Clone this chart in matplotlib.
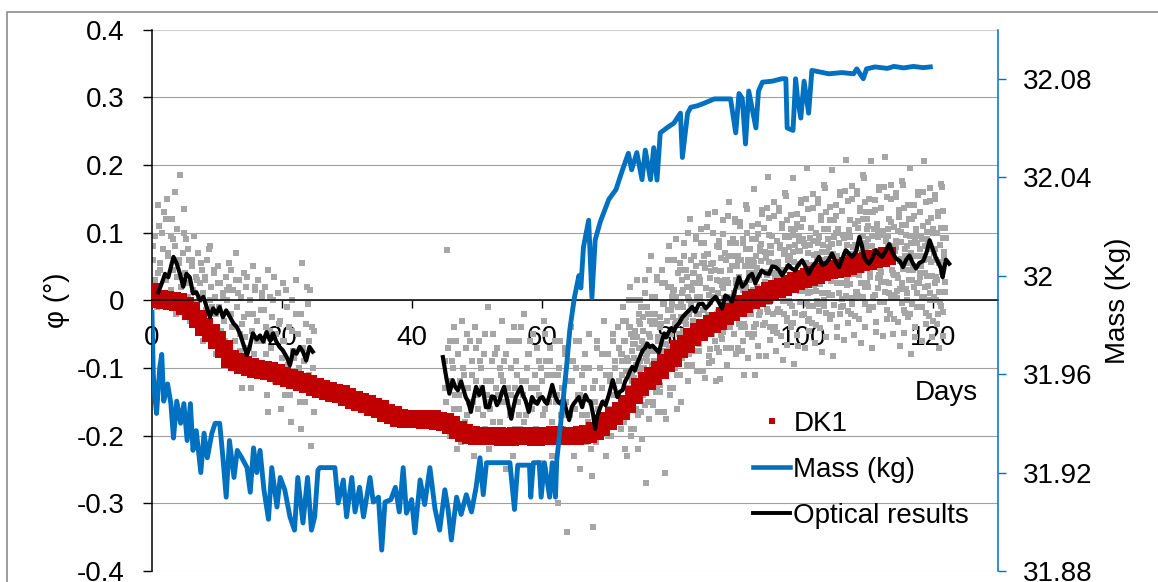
import matplotlib
matplotlib.use("Agg")
import matplotlib.pyplot as plt
import numpy as np
from matplotlib.lines import Line2D
from matplotlib.patches import Rectangle

plt.rcParams['font.family'] = ['Liberation Sans', 'DejaVu Sans']

# ---------------- data ----------------
x_ticks = [0, 20, 40, 60, 80, 100, 120]
x_tick_labels = ['0', '20', '40', '60', '80', '100', '120']
phi_ticks = [-0.4, -0.3, -0.2, -0.1, 0, 0.1, 0.2, 0.3, 0.4]
phi_tick_labels = ['-0.4', '-0.3', '-0.2', '-0.1', '0', '0.1', '0.2', '0.3', '0.4']
mass_ticks = [31.88, 31.92, 31.96, 32.00, 32.04, 32.08]
mass_tick_labels = ['31.88', '31.92', '31.96', '32', '32.04', '32.08']

# DK1 (one value per day, day 0..113)
dk1_days = list(range(0, 114))
dk1_phi = [0.012, 0.002, 0.000, -0.001, -0.002, -0.008, -0.016, -0.027, -0.040, -0.048,
           -0.058, -0.072, -0.087, -0.091, -0.095, -0.099, -0.101, -0.103, -0.105, -0.108,
           -0.112, -0.115, -0.118, -0.121, -0.124, -0.128, -0.131, -0.134, -0.137, -0.139,
           -0.143, -0.147, -0.150, -0.154, -0.157, -0.161, -0.166, -0.170, -0.174, -0.176,
           -0.175, -0.176, -0.177, -0.176, -0.178, -0.180, -0.185, -0.191, -0.196, -0.199,
           -0.200, -0.201, -0.200, -0.201, -0.202, -0.202, -0.201, -0.200, -0.201, -0.202,
           -0.201, -0.200, -0.199, -0.200, -0.201, -0.200, -0.199, -0.197, -0.193, -0.187,
           -0.179, -0.171, -0.164, -0.153, -0.140, -0.128, -0.120, -0.112, -0.103, -0.092,
           -0.085, -0.072, -0.064, -0.055, -0.047, -0.041, -0.035, -0.030, -0.024, -0.018,
           -0.011, -0.006, 0.000, 0.004, 0.008, 0.013, 0.016, 0.020, 0.024, 0.028,
           0.031, 0.034, 0.038, 0.041, 0.044, 0.046, 0.048, 0.050, 0.053, 0.056,
           0.058, 0.061, 0.063, 0.065]

# raw gray samples (phi in 1/1000 degree), regularly sampled: (start day, step, values)
raw_a_start, raw_a_step = 0.1, 0.2
raw_a = [60, 20, 95, -10, 40, 110, 55, 0, 75, 130, 30, 150, 65, 10, 95, 120, 45, 80, -20, 105,
         60, 185, 20, 70, 135, 40, 90, 5, 60, -30, 50, 15, 95, 35, -5, 70, 25, -40, 45, 10,
         30, -15, 60, 75, 0, 20, -50, 40, 5, -20, 50, -10, 25, -70, 10, -30, 35, 0, -90, 20,
         45, -40, 15, -60, 70, -10, 30, -75, 5, -35, 40, -55, 20, -20, -100, 0, -45, 50, -80, 15,
         -30, 30, -110, -15, 10, -60, 20, -40, -140, 45, 5, -70, -25, 35, -95, -50, 10, -120, -30, -85,
         25, -60, -140, -10, -95, -40, -180, 0, -75, -125, 30, -110, -50, -150, -20, 55, -90, -130, -35, -5,
         -60, 15, -215, -100, -45]
raw_a2_start, raw_a2_step = 0.2, 1 / 3
raw_a2 = [80, 30, 140, 45, 100, -5, 120, 70, 15, 90, 160, 35, 55, 5, 100, 25, 75, -15,
          60, -25, 30, 0, 55, -60, 35, -35, 80, -10, 45, -80, 25, -45, 5, -60, 15, 55,
          -20, -95, 30, 10, -50, -130, -25, 35, -70, -130, -20, 20, -60, -95, 5, -15, -80, -165,
          -45, 0, -120, -100, -35, -160, -60, 15, -105, -140, -45, -85, -20, -100, -190,
          -70, -150, 20, -110, -40, -165]
raw_b_start, raw_b_step = 45.0, 0.2
raw_b = [-90, -150, 74, -120, -60, -180, -100, -40, -140, -220, -80, -160, -120, -30, -190,
         -110, -70, -170, -130, -60, -200, -90, -150, -40, -120, -140, -60, -265, -100, -170,
         -80, -190, -120, -10, -150, -160, -90, -50, -210, -130, -70, -140, -180, -110, -30,
         -120, -200, -80, -150, -60, -170, -100, -230, -40, -130, -90, -150, -60, -190, -120,
         -140, -20, -170, -100, -210, -80, -130, -160, -50, -110, -190, -70, -140, -240, -100,
         -120, -30, -160, -90, -200, -150, -70, -180, -110, -200, -60, -140, -300, -100, -170,
         -130, -210, -80, -150, -343, -90, -170, -40, -120, -230, -160, -100, -190, -60, -140,
         -110, -200, -130, -80, -170, -180, -50, -150, -260, -335, -120, -210, -70, -160, -100,
         -190, -130, -30, -150, -230, -80, -160, -110, -200, -60, -140, -90, -170, -40, -120]
raw_b2_start, raw_b2_step = 45.1, 1 / 3
raw_b2 = [-130, -70, -200, -90, -160, -60, -140, -210, -100, -180, -50, -150, -110, -230, -70,
          -160, -90, -130, -50, -140, -220, -120, -180, -80, -200, -100, -150, -90, -250, -130,
          -140, -60, -190, -110, -170, -40, -180, -120, -80, -60, -200, -150, -130, -90, -210,
          -170, -50, -110, -90, -230, -140, -150, -110, -60, -190, -70, -170, -120, -200, -90,
          -60, -140, -250, -170, -100, -210, -100, -220, -130, -150, -60, -190, -80, -170, -110,
          -200, -120, -50, -100, -160, -70]
raw_c_start, raw_c_step = 72.0, 0.125
raw_c = [-80, -180, -110, -30, -150, -220, -60, -130,
         -160, -90, 0, -130, -40, -190, -110, -65,
         -85, -190, -45, -135, 30, -95, -170, -70,
         -105, -10, -205, -45, -140, -65, 10, -270,
         -10, -90, -150, -50, -75, 65, -120, 5,
         -155, -35, -20, -75, -135, 30, -60, -100,
         -25, -125, -55, 25, -95, -165, -5, -255,
         -100, -30, 60, -70, 20, -130, -50, -5,
         -25, -130, 15, -75, 90, -35, -110, -10,
         -50, 45, -150, 10, -85, -10, 65, -70,
         45, -35, -95, 5, -20, 120, -65, 60,
         -95, 25, 40, -15, -75, 90, 0, -40,
         35, -65, 5, 85, -35, -105, 55, -15,
         -52, 18, 108, -22, 68, -82, -2, 43,
         15, -90, 55, -35, 130, 5, -70, 30,
         -17, 78, -117, 43, -52, 23, 98, -37,
         70, -10, -70, 30, 5, 145, -40, 85,
         -70, 50, 65, 10, -50, 115, 25, -15,
         65, -35, 35, 115, -5, -75, 85, 15,
         -20, 50, 140, 10, 100, -50, 30, 75,
         50, -55, 90, 0, 165, 40, -35, 65,
         18, 113, -82, 78, -17, 58, 133, -2,
         107, 27, -33, 67, 42, 182, -3, 122,
         -40, 80, 95, 40, -20, 145, 55, 15,
         87, -13, 57, 137, 17, -53, 107, 37,
         -1, 69, 159, 29, 119, -31, 49, 94,
         66, -39, 106, 16, 181, 56, -19, 81,
         33, 128, -67, 93, -2, 73, 148, 13,
         120, 40, -20, 80, 55, 195, 10, 135,
         -28, 92, 107, 52, -8, 157, 67, 27,
         99, -1, 69, 149, 29, -41, 119, 49,
         11, 81, 171, 41, 131, -19, 61, 106,
         78, -27, 118, 28, 193, 68, -7, 93,
         45, 140, -55, 105, 10, 85, 160, 25,
         132, 52, -8, 92, 67, 207, 22, 147,
         -16, 104, 119, 64, 4, 169, 79, 39,
         112, 12, 82, 162, 42, -28, 132, 62,
         25, 95, 185, 55, 145, -5, 75, 120,
         90, -15, 130, 40, 205, 80, 5, 105,
         53, 148, -47, 113, 18, 93, 168, 33,
         137, 57, -3, 97, 72, 212, 27, 152,
         -15, 105, 120, 65, 5, 170, 80, 40,
         108, 8, 78, 158, 38, -32, 128, 58,
         16, 86, 176, 46, 136, -14, 66, 111,
         80, -25, 120, 30, 195, 70, -5, 95,
         45, 140, -55, 105, 10, 85, 160, 25,
         130, 50, -10, 90, 65, 205, 20, 145,
         -19, 101, 116, 61, 1, 166, 76, 36,
         105, 5, 75, 155, 35, -35, 125, 55,
         12, 82, 172, 42, 132, -18, 62, 107]
raw_c2_start, raw_c2_step = 72.0625, 0.125
raw_c2 = [-190, -90, -10, -160, -60, -130, -30, -230,
          -90, -155, -40, 20, -200, -75, -135, -55,
          -130, 0, -95, -160, -55, -220, -20, -90,
          0, -165, -60, -25, -100, 30, -135, -85,
          -80, -20, -175, 45, -55, -110, -35, -150,
          -20, -90, 5, -135, 35, -55, -165, -35,
          -135, -35, 45, -105, -5, -75, 25, -175,
          -30, -95, 20, 80, -140, -15, -75, 5,
          -70, 60, -35, -100, 5, -160, 40, -30,
          55, -110, -5, 30, -45, 85, -80, -30,
          -25, 35, -120, 100, 0, -55, 20, -95,
          40, -30, 65, -75, 95, 5, -105, 25,
          -75, 25, 105, -45, 55, -15, 85, -115,
          18, -47, 68, 128, -92, 33, -27, 53,
          -30, 100, 5, -60, 45, -120, 80, 10,
          88, -77, 28, 63, -12, 118, -47, 3,
          0, 60, -95, 125, 25, -30, 45, -70,
          65, -5, 90, -50, 120, 30, -80, 50,
          -70, 30, 110, -40, 60, -10, 90, -110,
          25, -40, 75, 135, -85, 40, -20, 60,
          -20, 110, 15, -50, 55, -110, 90, 20,
          98, -67, 38, 73, -2, 128, -37, 13,
          12, 72, -83, 137, 37, -18, 57, -58,
          70, 0, 95, -45, 125, 35, -75, 55,
          -48, 52, 132, -18, 82, 12, 112, -88,
          44, -21, 94, 154, -66, 59, -1, 79,
          -4, 126, 31, -34, 71, -94, 106, 36,
          113, -52, 53, 88, 13, 143, -22, 28,
          25, 85, -70, 150, 50, -5, 70, -45,
          82, 12, 107, -33, 137, 47, -63, 67,
          -36, 64, 144, -6, 94, 24, 124, -76,
          56, -9, 106, 166, -54, 71, 11, 91,
          8, 138, 43, -22, 83, -82, 118, 48,
          125, -40, 65, 100, 25, 155, -10, 40,
          37, 97, -58, 162, 62, 7, 82, -33,
          94, 24, 119, -21, 149, 59, -51, 79,
          -23, 77, 157, 7, 107, 37, 137, -63,
          70, 5, 120, 180, -40, 85, 25, 105,
          20, 150, 55, -10, 95, -70, 130, 60,
          133, -32, 73, 108, 33, 163, -2, 48,
          42, 102, -53, 167, 67, 12, 87, -28,
          95, 25, 120, -20, 150, 60, -50, 80,
          -27, 73, 153, 3, 103, 33, 133, -67,
          61, -4, 111, 171, -49, 76, 16, 96,
          10, 140, 45, -20, 85, -80, 120, 50,
          125, -40, 65, 100, 25, 155, -10, 40,
          35, 95, -60, 160, 60, 5, 80, -35,
          91, 21, 116, -24, 146, 56, -54, 76,
          -30, 70, 150, 0, 100, 30, 130, -70,
          57, -8, 107, 167, -53, 72, 12, 92]
raw_c3_start, raw_c3_step = 72.03, 0.25
raw_c3 = [-150, -80, -180, -105, -85, -155, -50, -120, -115, -65, -140, -30,
          -35, -110, -75, -155, -125, -70, -30, -95, -100, -30, -130, -55,
          -40, -110, -5, -75, -65, -15, -90, 20, 10, -65, -30, -110,
          -80, -25, 15, -50, -50, 20, -80, -5, 15, -55, 50, -20,
          -20, 30, -45, 65, 48, -27, 8, -72, -50, 5, 45, -20,
          -27, 43, -57, 18, 30, -40, 65, -5, 0, 50, -25, 85,
          60, -15, 20, -60, -35, 20, 60, -5, -10, 60, -40, 35,
          48, -22, 83, 13, 12, 62, -13, 97, 80, 5, 40, -40,
          -18, 37, 77, 12, 4, 74, -26, 49, 61, -9, 96, 26,
          23, 73, -2, 108, 90, 15, 50, -30, -8, 47, 87, 22,
          14, 84, -16, 59, 71, 1, 106, 36, 33, 83, 8, 118,
          100, 25, 60, -20, 2, 57, 97, 32, 24, 94, -6, 69,
          82, 12, 117, 47, 45, 95, 20, 130, 110, 35, 70, -10,
          8, 63, 103, 38, 27, 97, -3, 72, 80, 10, 115, 45,
          38, 88, 13, 123, 101, 26, 61, -19, 0, 55, 95, 30,
          20, 90, -10, 65, 75, 5, 110, 40, 36, 86, 11, 121,
          100, 25, 60, -20, -3, 52, 92, 27]

# Optical results (two segments)
opt1_days = [0.97, 1.5, 2.0, 2.5, 3.3, 3.8, 4.3, 4.8, 5.3, 5.8, 6.3, 6.8, 7.4, 7.9, 8.4, 8.9,
             9.4, 9.9, 10.4, 10.9, 11.4, 12.0, 12.5, 13.0, 13.5, 14.0, 14.6, 15.0, 15.5, 16.1,
             16.6, 17.1, 17.6, 18.1, 18.6, 19.1, 19.6, 20.1, 20.7, 21.2, 21.7, 22.2, 22.7, 23.2,
             23.7, 24.2, 24.7]
opt1_phi = [0.012, 0.025, 0.039, 0.034, 0.064, 0.054, 0.039, 0.020, 0.039, 0.034, 0.010, 0.012,
            0.000, 0.005, -0.010, -0.025, -0.012, -0.020, -0.010, -0.025, -0.015, -0.025, -0.034,
            -0.039, -0.049, -0.064, -0.081, -0.069, -0.049, -0.058, -0.052, -0.061, -0.047, -0.059,
            -0.049, -0.061, -0.069, -0.074, -0.084, -0.096, -0.074, -0.079, -0.069, -0.076, -0.089,
            -0.069, -0.076]
opt2_days = [44.7, 45.2, 45.7, 46.2, 46.6, 47.0, 47.5, 48.2, 48.6, 49.0, 49.4, 49.8, 50.3, 50.8,
             51.3, 51.8, 52.2, 52.6, 53.0, 53.4, 53.8, 54.1, 54.6, 55.2, 55.5, 55.9, 56.3, 56.7,
             57.0, 57.4, 57.9, 58.4, 58.8, 59.2, 59.6, 60.0, 60.4, 60.7, 61.1, 61.5, 62.0, 62.4,
             62.8, 63.2, 63.6, 64.1, 64.5, 64.8, 65.2, 65.6, 66.1, 66.6, 67.0, 67.4, 67.8, 68.1,
             68.4, 68.7, 69.2, 69.7, 70.2, 70.8, 71.1, 71.5, 71.9, 72.3, 72.7, 73.1, 73.4, 73.8,
             74.2, 74.6, 75.0, 75.4, 75.8, 76.1, 76.5, 76.9, 77.4, 77.9, 78.3, 78.7, 79.0, 79.4,
             79.8, 80.2, 80.5, 81.0, 81.5, 82.0, 82.5, 83.0, 83.5, 84.0, 84.6, 85.1, 85.6, 86.1,
             86.6, 87.1, 87.6, 88.1, 88.6, 89.1, 89.6, 90.2, 90.7, 91.2, 91.7, 92.2, 92.7, 93.2,
             93.7, 94.2, 94.8, 95.3, 95.8, 96.3, 96.8, 97.3, 97.8, 98.3, 98.8, 99.3, 99.9, 100.4,
             100.9, 101.5, 102.0, 102.5, 103.0, 103.5, 104.0, 104.5, 105.0, 105.6, 106.1, 106.6,
             107.1, 107.6, 108.2, 108.7, 109.1, 109.4, 109.8, 110.2, 110.7, 111.2, 111.7, 112.2,
             112.7, 113.3, 113.8, 114.3, 114.9, 115.4, 115.9, 116.4, 116.9, 117.4, 117.9, 118.5,
             119.0, 119.5, 120.0, 120.4, 120.8, 121.2, 121.5, 121.8, 122.0, 122.5]
opt2_phi = [-0.084, -0.113, -0.138, -0.118, -0.128, -0.133, -0.120, -0.143, -0.150, -0.165, -0.145,
            -0.128, -0.140, -0.128, -0.158, -0.158, -0.142, -0.143, -0.155, -0.148, -0.135, -0.128,
            -0.148, -0.175, -0.160, -0.143, -0.135, -0.128, -0.140, -0.148, -0.165, -0.143, -0.150,
            -0.153, -0.145, -0.143, -0.150, -0.153, -0.140, -0.125, -0.143, -0.150, -0.153, -0.145,
            -0.160, -0.177, -0.158, -0.153, -0.148, -0.143, -0.158, -0.140, -0.148, -0.150, -0.170,
            -0.190, -0.172, -0.163, -0.150, -0.155, -0.140, -0.118, -0.128, -0.143, -0.135, -0.133,
            -0.120, -0.113, -0.106, -0.0985, -0.104, -0.092, -0.083, -0.074, -0.070, -0.064, -0.069,
            -0.067, -0.072, -0.077, -0.062, -0.049, -0.055, -0.047, -0.041, -0.046, -0.039, -0.034,
            -0.025, -0.020, -0.015, -0.010, -0.017, -0.006, -0.005, -0.012, -0.007, 0.000, 0.005,
            -0.003, -0.012, 0.007, 0.004, -0.002, 0.015, 0.034, 0.020, 0.025, 0.035, 0.039, 0.025,
            0.035, 0.044, 0.040, 0.039, 0.050, 0.049, 0.045, 0.037, 0.044, 0.052, 0.047, 0.044,
            0.052, 0.059, 0.050, 0.039, 0.050, 0.056, 0.064, 0.052, 0.054, 0.060, 0.069, 0.058,
            0.049, 0.062, 0.074, 0.069, 0.064, 0.072, 0.0935, 0.080, 0.064, 0.058, 0.054, 0.062,
            0.074, 0.068, 0.064, 0.072, 0.083, 0.070, 0.062, 0.058, 0.049, 0.060, 0.066, 0.055,
            0.047, 0.055, 0.058, 0.070, 0.0886, 0.075, 0.064, 0.056, 0.048, 0.034, 0.050, 0.060,
            0.054]

# Mass (kg), right axis
mass_days = [0.0, 0.2, 0.4, 0.7, 1.2, 1.5, 1.8, 2.4, 2.9, 3.3, 3.8, 4.4, 4.9, 5.4, 5.9, 6.3, 6.8,
             7.5, 8.0, 8.5, 9.2, 9.7, 10.4, 10.9, 11.4, 11.9, 12.6, 13.1, 13.8, 14.6, 15.1, 15.6,
             16.1, 16.6, 17.2, 17.9, 18.4, 19.2, 19.7, 20.4, 21.2, 21.9, 22.4, 23.2, 23.9, 24.5,
             25.0, 25.5, 25.8, 28.1, 28.6, 29.4, 29.9, 30.7, 31.2, 31.9, 32.5, 33.5, 34.0, 34.8,
             35.3, 35.8, 36.7, 37.4, 38.0, 38.6, 39.1, 39.9, 40.4, 41.2, 41.9, 42.7, 43.5, 44.2,
             45.0, 45.5, 46.0, 46.8, 47.5, 48.3, 49.1, 49.8, 50.4, 50.9, 51.4, 53.5, 55.0, 55.7,
             56.2, 58.0, 58.2, 58.6, 59.5, 59.8, 60.3, 61.1, 61.5, 62.0, 62.2, 63.0, 63.7, 64.2,
             64.9, 65.6, 65.9, 66.3, 67.1, 67.6, 68.1, 68.9, 70.2, 71.3, 72.3, 73.2, 73.7, 74.5,
             75.3, 75.8, 76.6, 77.1, 77.6, 78.1, 79.1, 80.2, 81.2, 81.5, 82.3, 82.8, 83.8, 84.8,
             86.4, 88.9, 89.7, 90.2, 90.7, 91.2, 91.7, 92.8, 93.2, 93.8, 95.3, 96.8, 97.4, 97.6,
             98.5, 98.9, 99.2, 99.7, 100.2, 100.9, 101.4, 104.0, 106.0, 107.8, 108.3, 109.3, 109.8,
             111.1, 113.0, 114.0, 115.5, 117.0, 118.5, 119.6]
mass_kg = [31.985, 31.960, 31.952, 31.944, 31.963, 31.968, 31.949, 31.956, 31.948, 31.934, 31.949,
           31.940, 31.948, 31.933, 31.948, 31.929, 31.937, 31.920, 31.936, 31.926, 31.936, 31.940,
           31.940, 31.926, 31.910, 31.933, 31.918, 31.929, 31.926, 31.922, 31.912, 31.930, 31.920,
           31.929, 31.913, 31.901, 31.922, 31.906, 31.918, 31.913, 31.902, 31.8966, 31.918, 31.8995,
           31.918, 31.8966, 31.902, 31.921, 31.922, 31.922, 31.9076, 31.917, 31.902, 31.918, 31.904,
           31.914, 31.902, 31.918, 31.908, 31.910, 31.8885, 31.908, 31.909, 31.914, 31.904, 31.922,
           31.9035, 31.909, 31.8955, 31.917, 31.907, 31.922, 31.905, 31.8966, 31.913, 31.905,
           31.8926, 31.910, 31.903, 31.911, 31.904, 31.914, 31.926, 31.911, 31.924, 31.924, 31.924,
           31.905, 31.923, 31.923, 31.910, 31.924, 31.924, 31.910, 31.924, 31.910, 31.924, 31.910,
           31.925, 31.945, 31.963, 31.978, 31.991, 32.000, 31.995, 32.0116, 32.0225, 31.991,
           32.0145, 32.022, 32.031, 32.035, 32.043, 32.0497, 32.043, 32.050, 32.039, 32.051,
           32.039, 32.052, 32.0388, 32.058, 32.060, 32.062, 32.066, 32.048, 32.066, 32.0684,
           32.069, 32.070, 32.0718, 32.0718, 32.058, 32.074, 32.072, 32.0535, 32.075, 32.060,
           32.075, 32.0786, 32.079, 32.080, 32.080, 32.060, 32.059, 32.080, 32.072, 32.064,
           32.079, 32.066, 32.0834, 32.082, 32.0825, 32.082, 32.084, 32.080, 32.084, 32.0848,
           32.0842, 32.0850, 32.0844, 32.0850, 32.0845, 32.0848]

# ---------------- figure ----------------
W, H = 1158, 582
fig = plt.figure(figsize=(W / 100, H / 100), dpi=100)
fig.patch.set_facecolor('white')

ax = fig.add_axes([152 / W, (H - 571) / H, 846 / W, 541.5 / H])
ax.set_xlim(0, 130)
ax.set_ylim(-0.4, 0.4)

gray = '#A6A6A6'
red = '#C00000'
blue = '#0070C0'

def sampled(start, step, vals):
    days = start + step * np.arange(len(vals))
    return days, np.array(vals) / 1000.0

for st, sp, vv in [(raw_a_start, raw_a_step, raw_a), (raw_a2_start, raw_a2_step, raw_a2),
                   (raw_b_start, raw_b_step, raw_b), (raw_b2_start, raw_b2_step, raw_b2),
                   (raw_c_start, raw_c_step, raw_c), (raw_c2_start, raw_c2_step, raw_c2),
                   (raw_c3_start, raw_c3_step, raw_c3)]:
    d, v = sampled(st, sp, vv)
    ax.plot(d, v, 's', color=gray, ms=5.0, mew=0, zorder=2)

ax.plot(dk1_days, dk1_phi, 's', color=red, ms=13, mew=0, zorder=3)
ax.plot(opt1_days, opt1_phi, '-', color='black', lw=3.0, zorder=4)
ax.plot(opt2_days, opt2_phi, '-', color='black', lw=3.0, zorder=4)

# axes styling
ax.set_yticks(phi_ticks)
ax.set_yticklabels(phi_tick_labels)
ax.set_xticks(x_ticks)
ax.set_xticklabels(x_tick_labels)
ax.tick_params(axis='y', direction='out', length=6.5, width=1, pad=13.5, labelsize=20)
ax.tick_params(axis='x', direction='out', length=6, width=1, pad=12, labelsize=20)
for s in ['top', 'right']:
    ax.spines[s].set_visible(False)
ax.spines['left'].set_linewidth(1.1)
ax.spines['bottom'].set_position(('data', 0))
ax.spines['bottom'].set_linewidth(1.1)
ax.spines['bottom'].set_zorder(5)
ax.yaxis.grid(True, color='#A0A0A0', lw=0.8, zorder=0)
ax.set_axisbelow(True)
gl = ax.get_ygridlines()
gl[0].set_color('#CFCFCF')
gl[-1].set_color('#CFCFCF')

ax2 = ax.twinx()
ax2.set_ylim(31.88, 32.10)
ax2.plot(mass_days, mass_kg, '-', color=blue, lw=3.5)
ax2.set_yticks(mass_ticks)
ax2.set_yticklabels(mass_tick_labels)
ax2.tick_params(axis='y', direction='out', length=6, width=1, pad=12, labelsize=20,
                color=blue, labelcolor='black')
for s in ['top', 'left', 'bottom']:
    ax2.spines[s].set_visible(False)
ax2.spines['right'].set_color(blue)
ax2.spines['right'].set_linewidth(1.1)

# labels
fig.text(57 / W, 1 - 300 / H, 'φ (°)', rotation=90, ha='center', va='center', fontsize=20)
fig.text(1118 / W, 1 - 301 / H, 'Mass (Kg)', rotation=90, ha='center', va='center', fontsize=20)
fig.text(978 / W, 1 - 393 / H, 'Days', ha='right', va='center', fontsize=20)

# legend
handles = [Line2D([], [], marker='s', color=red, ls='none', ms=4, mew=0),
           Line2D([], [], color=blue, lw=3.3),
           Line2D([], [], color='black', lw=2.8)]
labels = ['DK1', 'Mass (kg)', 'Optical results']
fig.legend(handles, labels, loc='upper left', bbox_to_anchor=(742 / W, 1 - 400 / H),
           frameon=False, fontsize=20, handlelength=1.33, handletextpad=0.12,
           labelspacing=0.72, borderpad=0.4, borderaxespad=0)

# outer chart border
fig.patches.append(Rectangle((7 / W, -0.05), 1.2, (1 - 12 / H) + 0.05, transform=fig.transFigure,
                             fill=False, edgecolor='#8C8C8C', lw=1.2))

fig.savefig('out.png', dpi=100)
